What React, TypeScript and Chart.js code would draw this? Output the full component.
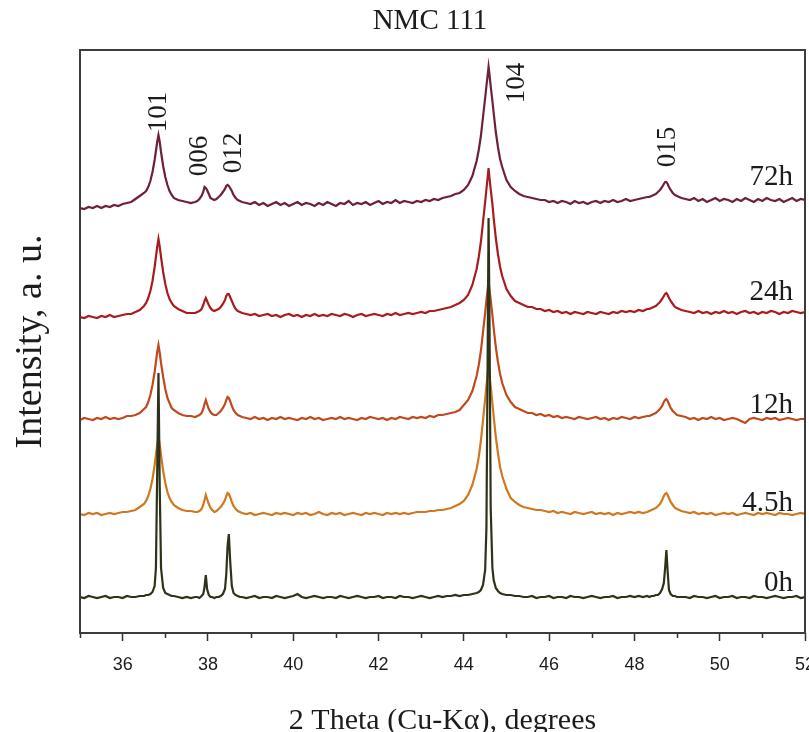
import { useEffect, useRef } from "react";
import { Chart, registerables } from "chart.js";

Chart.register(...registerables);

// 2θ grid shared by all patterns (degrees)
const TWO_THETA = [
  35.0, 35.1, 35.2, 35.3, 35.4, 35.5, 35.6, 35.7, 35.8, 35.9, 36.0, 36.1, 36.2, 36.3, 36.4, 36.5,
  36.55, 36.6, 36.65, 36.7, 36.75, 36.78, 36.81, 36.84, 36.87, 36.9, 36.95, 37.0, 37.05, 37.1, 37.15,
  37.2, 37.3, 37.4, 37.5, 37.6, 37.7,
  37.75, 37.8, 37.85, 37.89, 37.92, 37.95, 37.98, 38.02, 38.06, 38.1, 38.15, 38.2, 38.25, 38.3, 38.35, 38.4, 38.43, 38.46, 38.49, 38.52, 38.56, 38.6, 38.65, 38.7, 38.75,
  38.8, 38.9, 39.0, 39.1, 39.2, 39.3, 39.4, 39.5, 39.6, 39.7,
  39.8, 39.9, 40.0, 40.1, 40.2, 40.3, 40.4, 40.5, 40.6, 40.7,
  40.8, 40.9, 41.0, 41.1, 41.2, 41.3, 41.4, 41.5, 41.6, 41.7,
  41.8, 41.9, 42.0, 42.1, 42.2, 42.3, 42.4, 42.5, 42.6, 42.7,
  42.8, 42.9, 43.0, 43.1, 43.2, 43.3, 43.4, 43.5, 43.6, 43.7,
  43.8, 43.9,
  44.0, 44.1, 44.2, 44.3, 44.35, 44.4, 44.45, 44.5, 44.53, 44.56, 44.58, 44.6, 44.63, 44.67, 44.7, 44.75, 44.8, 44.85, 44.9, 45.0, 45.1, 45.2,
  45.3, 45.4, 45.5, 45.6, 45.7, 45.8, 45.9, 46.0, 46.1, 46.2,
  46.3, 46.4, 46.5, 46.6, 46.7, 46.8, 46.9, 47.0, 47.1, 47.2,
  47.3, 47.4, 47.5, 47.6, 47.7, 47.8, 47.9, 48.0, 48.1, 48.2,
  48.3,
  48.35, 48.4, 48.45, 48.5, 48.55, 48.6, 48.65, 48.69, 48.72, 48.75, 48.78, 48.81, 48.85, 48.9, 48.95, 49.0, 49.1,
  49.2, 49.3, 49.4, 49.5, 49.6, 49.7, 49.8, 49.9, 50.0, 50.1,
  50.2, 50.3, 50.4, 50.5, 50.6, 50.7, 50.8, 50.9, 51.0, 51.1,
  51.2, 51.3, 51.4, 51.5, 51.6, 51.7, 51.8, 51.9, 52.0,
];

const SAMPLES = ["0h", "4.5h", "12h", "24h", "72h"];
// vertical stacking offset of each pattern (a. u.)
const OFFSETS = [35, 118, 213, 316, 425];

const I_0H = [
  1, 0, 2, 1, 0, 1, 2, 0, 1, 1, 0, 2, 1, 1, 2, 2,
  3, 3, 4, 6, 12, 30, 125, 225, 110, 30, 10, 5, 4, 3, 2,
  2, 1, 0, 1, 0, 1,
  1, 0, 2, 4, 11, 23, 9, 3, 1, 1, 0, 1, 1, 2, 4, 9, 24, 52, 64, 38, 12, 5, 3, 2, 1,
  1, 0, 1, 2, 0, 1, 1, 0, 2, 1, 0, 1, 2, 4, 1, 0, 1, 2, 1, 0, 1, 1, 0, 2, 1, 0, 1, 2, 1, 0,
  1, 1, 2, 0, 1, 1, 0, 2, 1, 1, 0, 1, 2, 1, 0, 1, 2, 1, 2, 2, 3, 2,
  3, 3, 4, 5, 6, 8, 13, 28, 70, 250, 380, 290, 90, 30, 18, 10, 7, 5, 4, 3, 3, 2,
  2, 1, 1, 2, 0, 1, 1, 2, 0, 1, 1, 0, 2, 1, 1, 0, 1, 2, 1, 0, 1, 1, 2, 0, 1, 1, 2, 1, 2, 1, 2,
  1, 2, 2, 3, 3, 5, 9, 15, 30, 48, 26, 8, 4, 2, 2, 1, 1,
  1, 0, 2, 1, 1, 0, 1, 2, 0, 1, 1, 2, 0, 1, 1, 0, 2, 1, 1, 0, 1, 2, 1, 0, 1, 1, 2, 0, 1,
];

const I_4_5H = [
  1, 0, 2, 1, 2, 0, 1, 2, 1, 2, 3, 3, 4, 5, 8, 11,
  14, 19, 26, 36, 50, 60, 70, 78, 70, 60, 44, 32, 23, 17, 13,
  10, 7, 5, 4, 4, 3,
  3, 4, 6, 10, 15, 20, 16, 11, 7, 5, 3, 4, 6, 8, 11, 15, 19, 22, 21, 18, 13, 9, 6, 4, 3,
  2, 1, 2, 0, 1, 2, 1, 0, 2, 1, 2, 1, 0, 2, 1, 2, 0, 1, 3, 1, 0, 2, 1, 2, 0, 1, 2, 1, 0, 2,
  1, 2, 1, 0, 2, 1, 2, 1, 2, 1, 2, 3, 3, 3, 4, 4, 5, 5, 6, 7, 9, 11,
  14, 20, 30, 46, 58, 74, 95, 116, 129, 141, 150, 141, 129, 112, 99, 78, 62, 48, 39, 26, 17, 13,
  10, 8, 7, 6, 5, 5, 4, 3, 4, 2, 3, 2, 1, 3, 2, 1, 2, 3, 1, 2, 1, 2, 0, 2, 1, 2, 3, 2, 3, 2, 3,
  4, 5, 6, 7, 9, 11, 15, 19, 21, 22, 20, 17, 13, 10, 7, 6, 4,
  3, 2, 3, 1, 2, 1, 2, 0, 1, 2, 1, 2, 0, 1, 2, 1, 0, 2, 1, 2, 1, 0, 2, 1, 1, 0, 1, 2, 1,
];

const I_12H = [
  0, 2, 1, 0, 2, 1, 3, 1, 2, 1, 2, 4, 4, 5, 7, 11,
  13, 18, 25, 35, 48, 58, 68, 75, 67, 57, 43, 31, 22, 17, 12,
  10, 7, 5, 4, 4, 3,
  4, 5, 7, 11, 16, 20, 16, 11, 8, 6, 5, 5, 7, 9, 12, 16, 20, 23, 22, 19, 14, 10, 7, 5, 4,
  3, 2, 1, 3, 1, 2, 0, 2, 1, 3, 1, 2, 1, 0, 2, 1, 3, 1, 2, 0, 1, 2, 1, 3, 1, 2, 1, 0, 2, 1,
  3, 2, 1, 2, 0, 2, 1, 3, 2, 1, 3, 2, 3, 2, 4, 3, 5, 5, 6, 7, 8, 10,
  15, 20, 29, 44, 55, 69, 88, 107, 120, 131, 140, 131, 120, 105, 92, 73, 58, 46, 37, 25, 18, 13,
  11, 9, 7, 7, 5, 6, 4, 5, 3, 4, 2, 3, 2, 1, 3, 2, 1, 2, 3, 1, 2, 0, 2, 1, 3, 2, 1, 3, 2, 3, 4,
  4, 5, 6, 7, 9, 11, 14, 18, 20, 21, 19, 16, 12, 9, 7, 5, 4,
  3, 1, 2, 0, 2, 1, 3, 1, 2, 0, 1, 2, 1, -1, -3, 1, 2, 1, 0, 2, 1, 2, 0, 1, 2, 1, 0, 1, 1,
];

const I_24H = [
  0, -1, 1, 0, -1, 1, 0, 2, 0, 1, 2, 3, 3, 5, 7, 11,
  14, 19, 26, 36, 50, 60, 70, 78, 70, 60, 45, 33, 24, 18, 14,
  11, 8, 6, 4, 4, 4,
  5, 6, 8, 12, 16, 19, 16, 12, 9, 7, 6, 7, 8, 10, 13, 17, 21, 23, 23, 20, 16, 12, 8, 6, 5,
  4, 3, 2, 3, 1, 2, 3, 1, 2, 0, 2, 3, 1, 2, 0, 2, 1, 3, 1, 2, 1, 3, 2, 1, 3, 2, 0, 2, 3, 1,
  2, 3, 2, 1, 3, 2, 4, 2, 3, 4, 3, 4, 5, 4, 6, 6, 7, 8, 9, 10, 12, 14,
  17, 22, 32, 48, 60, 75, 95, 115, 128, 140, 149, 140, 128, 113, 99, 79, 63, 50, 41, 28, 21, 16,
  14, 12, 10, 10, 8, 8, 6, 7, 5, 6, 4, 5, 3, 5, 4, 3, 5, 4, 3, 5, 4, 3, 5, 4, 6, 5, 6, 5, 7, 6, 8,
  8, 9, 10, 11, 13, 15, 18, 21, 23, 24, 22, 19, 16, 13, 10, 9, 7,
  6, 5, 4, 6, 4, 5, 3, 5, 4, 6, 4, 5, 3, 5, 6, 4, 5, 3, 5, 4, 6, 5, 3, 5, 4, 6, 5, 4, 5,
];

const I_72H = [
  0, -1, 1, 0, 2, 0, 2, 1, 3, 2, 4, 5, 6, 9, 12, 15,
  17, 21, 27, 36, 48, 57, 66, 73, 66, 56, 42, 31, 23, 17, 13,
  10, 8, 7, 6, 5, 6,
  7, 9, 12, 16, 21, 20, 18, 14, 10, 9, 8, 9, 11, 13, 16, 19, 22, 23, 22, 20, 17, 13, 10, 8, 7,
  6, 5, 4, 6, 3, 5, 2, 4, 6, 3, 5, 2, 4, 6, 3, 5, 4, 2, 5, 3, 6, 4, 2, 5, 4, 7, 3, 5, 4, 6,
  3, 5, 7, 4, 6, 5, 8, 5, 7, 6, 5, 7, 6, 8, 7, 9, 8, 10, 11, 12, 14, 15,
  18, 23, 32, 47, 58, 72, 91, 110, 122, 133, 141, 134, 122, 107, 95, 76, 61, 49, 41, 28, 21, 17,
  14, 12, 11, 10, 9, 8, 8, 6, 7, 5, 7, 6, 4, 7, 5, 6, 4, 6, 7, 5, 7, 6, 8, 6, 7, 9, 7, 8, 9, 10, 11,
  11, 12, 13, 14, 16, 18, 21, 24, 26, 26, 24, 21, 18, 15, 13, 12, 10,
  9, 8, 10, 7, 9, 6, 8, 10, 7, 9, 8, 6, 9, 7, 10, 8, 6, 9, 7, 10, 8, 7, 9, 6, 8, 10, 7, 9, 8,
];

const X_MAJOR_TICKS = [36, 38, 40, 42, 44, 46, 48, 50, 52];
const X_MINOR_TICKS = [35, 37, 39, 41, 43, 45, 47, 49, 51];

// Miller-index annotations (2θ, intensity position)
const PEAK_HKL = ["101", "006", "012", "104", "015"];
const PEAK_HKL_X = [36.85, 37.81, 38.6, 45.25, 48.79];
const PEAK_HKL_Y = [521, 477, 480, 550, 486];

// sample label anchors (right aligned)
const SAMPLE_LABEL_X = 51.72;
const SAMPLE_LABEL_Y = [50, 130, 228, 341, 456];

const COLORS = ["#2d3319", "#d07820", "#bf4a1e", "#a81c1f", "#6e1f3e"];
const TEXT = "#1c1c1c";
const SERIF = "'Liberation Serif', 'DejaVu Serif', serif";
const SANS = "'Liberation Sans', Arial, sans-serif";

export default function App() {
  const ref = useRef<HTMLCanvasElement | null>(null);

  useEffect(() => {
    const canvas = ref.current;
    if (!canvas) return;
    const series = [I_0H, I_4_5H, I_12H, I_24H, I_72H];

    const annotations = {
      id: "annotations",
      afterDraw(chart: any) {
        const { ctx, chartArea, scales } = chart;
        const xs = scales.x;
        const ys = scales.y;
        ctx.save();
        // frame
        ctx.strokeStyle = "#3c3c3c";
        ctx.lineWidth = 2;
        ctx.strokeRect(chartArea.left, chartArea.top, chartArea.right - chartArea.left, chartArea.bottom - chartArea.top);
        // minor ticks
        ctx.lineWidth = 1.5;
        ctx.strokeStyle = "#333";
        for (const v of X_MINOR_TICKS) {
          const px = Math.round(xs.getPixelForValue(v)) + 0.5;
          ctx.beginPath();
          ctx.moveTo(px, chartArea.bottom);
          ctx.lineTo(px, chartArea.bottom + 5);
          ctx.stroke();
        }
        ctx.fillStyle = TEXT;
        // title
        ctx.font = `29px ${SERIF}`;
        ctx.textAlign = "center";
        ctx.textBaseline = "middle";
        ctx.fillText("NMC 111", chart.width / 2, 21);
        // peak labels
        ctx.font = `27px ${SERIF}`;
        PEAK_HKL.forEach((t, i) => {
          const px = xs.getPixelForValue(PEAK_HKL_X[i]);
          const py = ys.getPixelForValue(PEAK_HKL_Y[i]);
          ctx.save();
          ctx.translate(px, py);
          ctx.rotate(-Math.PI / 2);
          ctx.textAlign = "center";
          ctx.textBaseline = "middle";
          ctx.fillText(t, 0, 0);
          ctx.restore();
        });
        // sample labels
        ctx.font = `29px ${SERIF}`;
        ctx.textAlign = "right";
        ctx.textBaseline = "middle";
        SAMPLES.forEach((s, i) => {
          ctx.fillText(s, xs.getPixelForValue(SAMPLE_LABEL_X), ys.getPixelForValue(SAMPLE_LABEL_Y[i]));
        });
        ctx.restore();
      },
    };

    const chart = new Chart(canvas, {
      type: "line",
      data: {
        datasets: series.map((vals, s) => ({
          label: SAMPLES[s],
          data: TWO_THETA.map((x, i) => ({ x, y: OFFSETS[s] + vals[i] })),
          borderColor: COLORS[s],
          backgroundColor: COLORS[s],
          borderWidth: 2.2,
          pointRadius: 0,
          tension: 0,
          fill: false,
        })),
      },
      options: {
        animation: false,
        responsive: false,
        devicePixelRatio: 1,
        layout: { padding: { top: 50, right: 55, bottom: 0, left: 0 } },
        plugins: {
          legend: { display: false },
          tooltip: { enabled: false },
          title: { display: false },
        },
        scales: {
          x: {
            type: "linear",
            min: 35,
            max: 52,
            afterFit(scale: any) {
              scale.height = 127;
            },
            afterBuildTicks(scale: any) {
              scale.ticks = X_MAJOR_TICKS.map((v) => ({ value: v }));
            },
            ticks: {
              autoSkip: false,
              maxRotation: 0,
              padding: 13,
              color: TEXT,
              font: { family: SANS, size: 18 },
              callback: (v: any) => String(v),
            },
            grid: {
              display: true,
              drawOnChartArea: false,
              drawTicks: true,
              tickLength: 8,
              tickColor: "#333",
              tickWidth: 1.5,
            },
            border: { display: false },
            title: {
              display: true,
              text: "2 Theta (Cu-Kα), degrees",
              color: TEXT,
              font: { family: SERIF, size: 30 },
              padding: { top: 0, bottom: 21 },
            },
          },
          y: {
            type: "linear",
            min: 0,
            max: 583,
            afterFit(scale: any) {
              scale.width = 80;
            },
            ticks: { display: false },
            grid: { display: false },
            border: { display: false },
            title: {
              display: true,
              text: "Intensity, a. u.",
              color: TEXT,
              font: { family: SERIF, size: 38 },
              padding: { top: 8, bottom: 0 },
            },
          },
        },
      },
      plugins: [annotations],
    } as any);

    return () => chart.destroy();
  }, []);

  return (
    <div
      style={{
        position: "fixed",
        left: 0,
        top: 0,
        width: 809,
        height: 732,
        overflow: "hidden",
        background: "#fff",
      }}
    >
      <canvas ref={ref} width={860} height={760} style={{ display: "block", width: 860, height: 760 }} />
    </div>
  );
}
